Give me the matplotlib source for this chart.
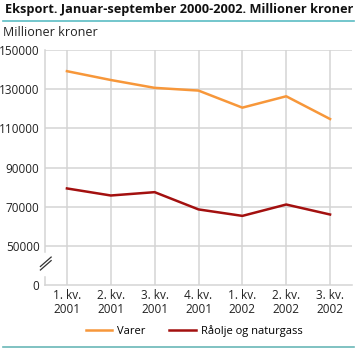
import matplotlib
matplotlib.use("Agg")
import matplotlib.pyplot as plt
from matplotlib.lines import Line2D

plt.rcParams['font.family'] = ['Open Sans', 'DejaVu Sans']

# data (millioner kroner)
kvartal = ['1. kv.\n2001', '2. kv.\n2001', '3. kv.\n2001', '4. kv.\n2001',
           '1. kv.\n2002', '2. kv.\n2002', '3. kv.\n2002']
varer = [139200, 134700, 130700, 129300, 120600, 126400, 114800]
raolje = [79400, 75800, 77500, 68700, 65400, 71200, 66100]

# broken axis: the label "0" sits at 30000 on the drawn scale
ytick_pos = [30000, 50000, 70000, 90000, 110000, 130000, 150000]
ytick_lab = ['0', '50000', '70000', '90000', '110000', '130000', '150000']

orange = '#f7973a'
darkred = '#a3100f'
grid = '#d4d4d4'

fig = plt.figure(figsize=(3.57, 3.49), dpi=100)
ax = fig.add_axes([45/357, 1-285.3/349, 307/357, (285.3-50)/349])

x = list(range(len(kvartal)))
ax.plot(x, varer, color=orange, lw=1.8, label='Varer', zorder=3)
ax.plot(x, raolje, color=darkred, lw=1.8, label='Råolje og naturgass', zorder=3)

ax.set_xlim(-0.5, len(kvartal)-0.5)
ax.set_ylim(30000, 150000)
ax.set_xticks(x)
ax.set_xticklabels(kvartal, fontsize=8.5, color='#222222', linespacing=1.1)
ax.set_yticks(ytick_pos)
ax.set_yticklabels(ytick_lab, fontsize=8.5, color='#222222')
ax.tick_params(length=0, pad=4)
ax.tick_params(axis='x', pad=3)

for yv in ytick_pos[1:]:
    ax.axhline(yv, color=grid, lw=1.1, zorder=1)
for xv in x:
    ax.axvline(xv, color=grid, lw=1.1, zorder=1)

for s in ['top', 'right', 'left']:
    ax.spines[s].set_visible(False)
ax.spines['bottom'].set_color(grid)
ax.spines['bottom'].set_linewidth(1.1)

# left spine with break marks
ax.plot([0, 0], [1, 0.14], transform=ax.transAxes, color=grid, lw=1.1, clip_on=False)
ax.plot([0, 0], [0.035, 0], transform=ax.transAxes, color=grid, lw=1.1, clip_on=False)
for dy in (0, 0.015):
    ax.plot([-0.015, 0.02], [0.065 + dy, 0.105 + dy],
            transform=ax.transAxes, color='#333333', lw=0.9, clip_on=False)

fig.text(5/357, 1-9/349, 'Eksport. Januar-september 2000-2002. Millioner kroner',
         fontsize=9.2, fontweight='bold', va='center', ha='left', color='#111111')
fig.add_artist(Line2D([3/357, 354/357], [1-21/349, 1-21/349], color='#5bbcc4', lw=1.2))
fig.add_artist(Line2D([3/357, 354/357], [1-347/349, 1-347/349], color='#6ab8b8', lw=1.2))
fig.text(3/357, 1-33/349, 'Millioner kroner', fontsize=9, va='center', ha='left', color='#222222')

fig.legend(loc='center', bbox_to_anchor=(194/357, 1-331/349), ncol=2, frameon=False,
           fontsize=8, handlelength=2.4, columnspacing=2.1, handletextpad=0.45)

fig.savefig('out.png', dpi=100)
